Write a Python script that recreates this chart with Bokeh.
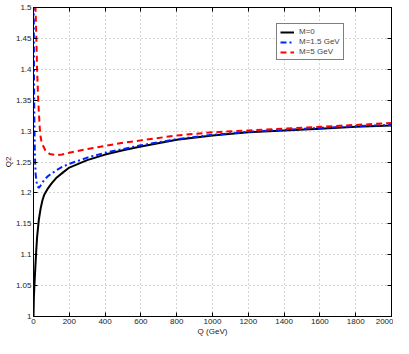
from bokeh.plotting import figure
from bokeh.models import LinearAxis, FixedTicker, Range1d, Legend, LegendItem
from bokeh.embed import file_html
from bokeh.resources import INLINE

# ---- data ----
q_m0 = [0, 2, 5, 10, 15, 20, 30, 40, 50, 60, 80, 100, 130, 160, 200, 300, 400, 500, 600, 800, 1000, 1200, 1400, 1600, 1800, 2000]
y_m0 = [1.0, 1.03, 1.05, 1.078, 1.105, 1.128, 1.157, 1.175, 1.188, 1.197, 1.207, 1.215, 1.225, 1.232, 1.241, 1.253, 1.262, 1.269, 1.275, 1.286, 1.293, 1.298, 1.301, 1.304, 1.307, 1.309]

q_m15 = [1, 2, 3, 5, 8, 12, 20, 30, 40, 50, 60, 80, 100, 130, 160, 200, 300, 400, 500, 600, 800, 1000, 1200, 1400, 1600, 1800, 2000]
y_m15 = [1.55, 1.45, 1.38, 1.31, 1.26, 1.23, 1.212, 1.208, 1.212, 1.217, 1.221, 1.227, 1.231, 1.237, 1.242, 1.247, 1.257, 1.265, 1.271, 1.277, 1.287, 1.294, 1.299, 1.302, 1.305, 1.308, 1.310]

q_m5 = [5, 8, 11, 16, 20, 25, 30, 35, 40, 47, 66, 90, 130, 160, 200, 300, 400, 500, 600, 800, 1000, 1200, 1400, 1600, 1800, 2000]
y_m5 = [1.60, 1.53, 1.50, 1.45, 1.40, 1.36, 1.33, 1.305, 1.29, 1.28, 1.269, 1.263, 1.261, 1.262, 1.265, 1.271, 1.276, 1.281, 1.285, 1.293, 1.298, 1.301, 1.304, 1.307, 1.310, 1.313]

x_ticks = [0, 200, 400, 600, 800, 1000, 1200, 1400, 1600, 1800, 2000]
y_ticks = [1.0, 1.05, 1.1, 1.15, 1.2, 1.25, 1.3, 1.35, 1.4, 1.45, 1.5]
y_tick_labels = ["1", "1.05", "1.1", "1.15", "1.2", "1.25", "1.3", "1.35", "1.4", "1.45", "1.5"]
series_labels = ["M=0", "M=1.5 GeV", "M=5 GeV"]

FONT = "Liberation Sans"

p = figure(width=393, height=338, output_backend="svg", toolbar_location=None,
           x_range=Range1d(0, 2000), y_range=Range1d(1.0, 1.5),
           x_axis_label="Q (GeV)", y_axis_label="Q2")
p.min_border_left = 0
p.min_border_right = 2
p.min_border_top = 7
p.min_border_bottom = 0
p.outline_line_color = "black"
p.outline_line_width = 1
p.background_fill_color = "white"
p.border_fill_color = "white"

for ax in p.xaxis + p.yaxis:
    ax.major_tick_in = 4
    ax.major_tick_out = 0
    ax.minor_tick_in = 0
    ax.minor_tick_out = 0
    ax.axis_line_color = "black"
    ax.major_tick_line_color = "black"
    ax.major_label_text_font = FONT
    ax.major_label_text_font_size = "8px"
    ax.major_label_text_color = "#222222"
    ax.axis_label_text_font = FONT
    ax.axis_label_text_font_size = "8px"
    ax.axis_label_text_font_style = "normal"
    ax.axis_label_text_color = "#222222"
    ax.major_label_standoff = 2
    ax.axis_label_standoff = 0

p.xaxis.ticker = FixedTicker(ticks=x_ticks)
p.yaxis.ticker = FixedTicker(ticks=y_ticks)
p.yaxis.major_label_overrides = {t: l for t, l in zip(y_ticks, y_tick_labels)}

# top and right tick-only axes (boxed ticks)
top = LinearAxis(ticker=FixedTicker(ticks=x_ticks), major_tick_in=4, major_tick_out=0,
                 minor_tick_in=0, minor_tick_out=0,
                 major_label_overrides={t: "" for t in x_ticks},
                 major_label_standoff=0, axis_line_color="black")
right = LinearAxis(ticker=FixedTicker(ticks=y_ticks), major_tick_in=4, major_tick_out=0,
                   minor_tick_in=0, minor_tick_out=0,
                   major_label_overrides={t: "" for t in y_ticks},
                   major_label_standoff=0, axis_line_color="black")
p.add_layout(top, "above")
p.add_layout(right, "right")

p.xgrid.ticker = FixedTicker(ticks=x_ticks)
p.ygrid.ticker = FixedTicker(ticks=y_ticks)
p.grid.grid_line_color = "#aaaaaa"
p.grid.grid_line_dash = "1 3"
p.grid.grid_line_width = 1

r0 = p.line(q_m0, y_m0, line_color="black", line_width=2)
r1 = p.line(q_m15, y_m15, line_color="#0022ff", line_width=2, line_dash="6 3 2 3")
r2 = p.line(q_m5, y_m5, line_color="#ff0000", line_width=2, line_dash="6 4")

legend = Legend(items=[LegendItem(label=series_labels[0], renderers=[r0]),
                       LegendItem(label=series_labels[1], renderers=[r1]),
                       LegendItem(label=series_labels[2], renderers=[r2])],
                location=(243, 256))
legend.label_text_font = FONT
legend.label_text_font_size = "8px"
legend.label_height = 8
legend.glyph_height = 8
legend.glyph_width = 14
legend.spacing = 1
legend.padding = 3
legend.margin = 0
legend.label_standoff = 5
legend.border_line_color = "black"
legend.border_line_width = 1
legend.background_fill_alpha = 1
p.add_layout(legend, "center")

open("out.html", "w").write(file_html(p, INLINE))
